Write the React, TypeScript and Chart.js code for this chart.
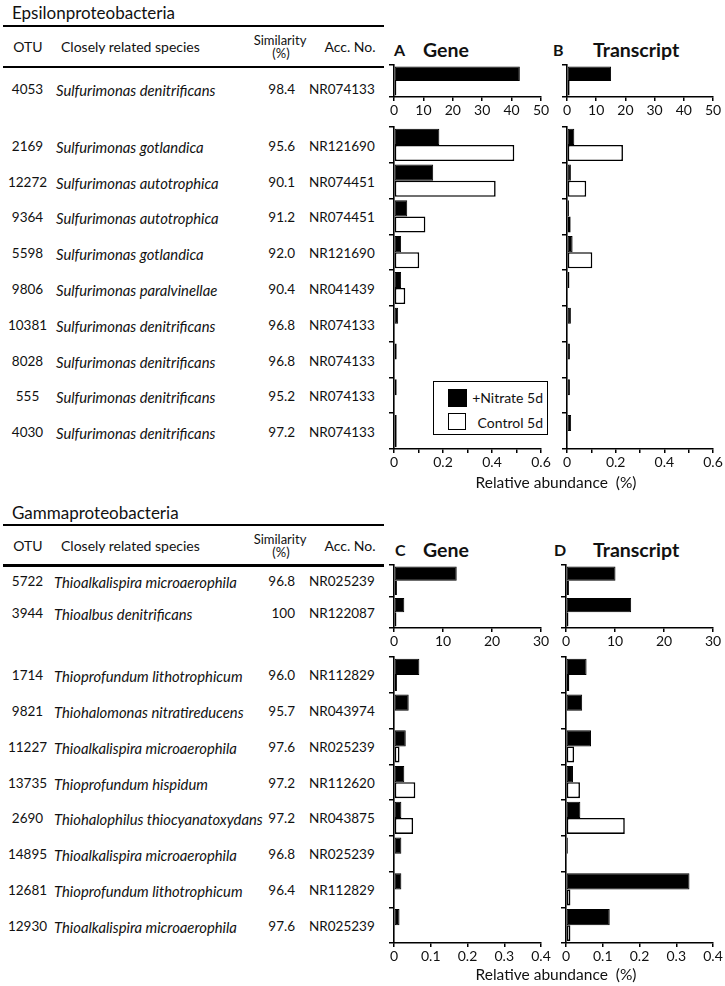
import React, { useEffect, useRef } from 'react';
import { Chart, registerables } from 'chart.js';
Chart.register(...registerables);

const FONT = 'Lato, "Noto Sans", sans-serif';

// ---- Epsilonproteobacteria ----
const epsTopOTU = ['4053'];
const epsTopSpecies = ['Sulfurimonas denitrificans'];
const epsTopSimilarity = ['98.4'];
const epsTopAcc = ['NR074133'];
const epsTopGeneNitrate = [42.8];
const epsTopGeneControl = [0.8];
const epsTopTransNitrate = [15.1];
const epsTopTransControl = [0.9];

const epsOTU = ['2169', '12272', '9364', '5598', '9806', '10381', '8028', '555', '4030'];
const epsSpecies = [
  'Sulfurimonas gotlandica', 'Sulfurimonas autotrophica', 'Sulfurimonas autotrophica',
  'Sulfurimonas gotlandica', 'Sulfurimonas paralvinellae', 'Sulfurimonas denitrificans',
  'Sulfurimonas denitrificans', 'Sulfurimonas denitrificans', 'Sulfurimonas denitrificans',
];
const epsSimilarity = ['95.6', '90.1', '91.2', '92.0', '90.4', '96.8', '96.8', '95.2', '97.2'];
const epsAcc = ['NR121690', 'NR074451', 'NR074451', 'NR121690', 'NR041439', 'NR074133', 'NR074133', 'NR074133', 'NR074133'];
const epsGeneNitrate = [0.185, 0.16, 0.054, 0.029, 0.029, 0.017, 0.011, 0.011, 0.011];
const epsGeneControl = [0.491, 0.415, 0.128, 0.103, 0.046, 0, 0, 0, 0.011];
const epsTransNitrate = [0.03, 0.016, 0.008, 0.023, 0.01, 0.016, 0.012, 0.012, 0.017];
const epsTransControl = [0.23, 0.079, 0.015, 0.104, 0, 0, 0, 0, 0];

// ---- Gammaproteobacteria ----
const gamTopOTU = ['5722', '3944'];
const gamTopSpecies = ['Thioalkalispira microaerophila', 'Thioalbus denitrificans'];
const gamTopSimilarity = ['96.8', '100'];
const gamTopAcc = ['NR025239', 'NR122087'];
const gamTopGeneNitrate = [12.8, 2.1];
const gamTopGeneControl = [0.6, 0.5];
const gamTopTransNitrate = [10.1, 13.3];
const gamTopTransControl = [0.6, 0.5];

const gamOTU = ['1714', '9821', '11227', '13735', '2690', '14895', '12681', '12930'];
const gamSpecies = [
  'Thioprofundum lithotrophicum', 'Thiohalomonas nitratireducens', 'Thioalkalispira microaerophila',
  'Thioprofundum hispidum', 'Thiohalophilus thiocyanatoxydans', 'Thioalkalispira microaerophila',
  'Thioprofundum lithotrophicum', 'Thioalkalispira microaerophila',
];
const gamSimilarity = ['96.0', '95.7', '97.6', '97.2', '97.2', '96.8', '96.4', '97.6'];
const gamAcc = ['NR112829', 'NR043974', 'NR025239', 'NR112620', 'NR043875', 'NR025239', 'NR112829', 'NR025239'];
const gamGeneNitrate = [0.069, 0.04, 0.032, 0.028, 0.02, 0.02, 0.02, 0.015];
const gamGeneControl = [0.008, 0, 0.015, 0.058, 0.052, 0, 0, 0];
const gamTransNitrate = [0.056, 0.044, 0.068, 0.019, 0.039, 0.005, 0.336, 0.119];
const gamTransControl = [0.009, 0, 0.022, 0.038, 0.16, 0, 0.012, 0.012];

const PAD_L = 30, PAD_T = 8, PAD_R = 24, PAD_B = 28;

function Panel(props: any) {
  const { x0, x1, y0, y1, labels, nitrate, control, max, step, labelEvery } = props;
  const ref = useRef<HTMLCanvasElement>(null);
  const w = x1 - x0 + PAD_L + PAD_R;
  const h = y1 - y0 + PAD_T + PAD_B;
  useEffect(() => {
    const chart = new Chart(ref.current as HTMLCanvasElement, {
      type: 'bar',
      data: {
        labels,
        datasets: [
          {
            label: '+Nitrate 5d', data: nitrate, backgroundColor: '#000', borderColor: '#000',
            borderWidth: 1, borderSkipped: false, barPercentage: 1, categoryPercentage: 0.9,
          },
          {
            label: 'Control 5d', data: control, backgroundColor: '#fff', borderColor: '#000',
            borderWidth: 1.6, borderSkipped: false, barPercentage: 1, categoryPercentage: 0.9,
          },
        ],
      } as any,
      options: {
        animation: false,
        responsive: false,
        indexAxis: 'y',
        layout: { padding: { top: PAD_T, right: PAD_R, left: 0, bottom: 0 } },
        plugins: { legend: { display: false }, tooltip: { enabled: false } },
        scales: {
          y: {
            offset: true,
            grid: { offset: true, drawOnChartArea: false, drawTicks: true, tickLength: 5, color: '#000', lineWidth: 1.5 },
            border: { display: true, color: '#000', width: 1.6 },
            ticks: { display: false },
            afterFit: (s: any) => { s.width = PAD_L; },
          },
          x: {
            min: 0,
            max,
            grid: { drawOnChartArea: false, drawTicks: true, tickLength: 4, color: '#000', lineWidth: 1.5 },
            border: { display: true, color: '#000', width: 1.6 },
            ticks: {
              stepSize: step,
              autoSkip: false,
              maxRotation: 0,
              padding: 1,
              color: '#111',
              font: { family: FONT, size: 14 },
              callback: (v: any) => {
                const n = Number(v);
                const k = Math.round(n / step);
                if (labelEvery && k % labelEvery !== 0) return '';
                if (n === 0) return '0';
                return step < 1 ? n.toFixed(1) : String(Math.round(n));
              },
            },
            afterFit: (s: any) => { s.height = PAD_B; },
          },
        },
      } as any,
    });
    return () => chart.destroy();
  }, []);
  return (
    <canvas
      ref={ref}
      width={w}
      height={h}
      style={{ position: 'absolute', left: x0 - PAD_L, top: y0 - PAD_T, width: w, height: h }}
    />
  );
}

function T(props: any) {
  const { x, y, a = 'l', s = 13, w = 400, i = false, children } = props;
  const style: any = {
    position: 'absolute', top: y, lineHeight: 1, fontSize: s, fontWeight: w,
    fontStyle: i ? 'italic' : 'normal', whiteSpace: 'nowrap', fontFamily: FONT, color: '#111',
  };
  if (a === 'l') { style.left = x; style.transform = 'translateY(-50%)'; }
  else if (a === 'r') { style.right = 725 - x; style.transform = 'translateY(-50%)'; }
  else { style.left = x; style.transform = 'translate(-50%,-50%)'; }
  return <div style={style}>{children}</div>;
}

function Line(props: any) {
  const { y, h } = props;
  return <div style={{ position: 'absolute', left: 3, top: y, width: 381, height: h, background: '#000' }} />;
}

function Rows(props: any) {
  const { otu, species, sim, acc, ys, spX } = props;
  return (
    <>
      {otu.map((o: string, k: number) => (
        <React.Fragment key={o + k}>
          <T x={27.5} y={ys[k]} a="c" s={13.5}>{o}</T>
          <T x={spX} y={ys[k]} s={14.8} i>{species[k]}</T>
          <T x={295} y={ys[k]} a="r" s={13.5}>{sim[k]}</T>
          <T x={309} y={ys[k]} s={13.5}>{acc[k]}</T>
        </React.Fragment>
      ))}
    </>
  );
}

function Header(props: any) {
  const { y } = props;
  return (
    <>
      <T x={28} y={y} a="c" s={14}>OTU</T>
      <T x={61} y={y} s={14}>Closely related species</T>
      <T x={280} y={y - 7} a="c" s={13}>Similarity</T>
      <T x={281} y={y + 5.5} a="c" s={13}>(%)</T>
      <T x={350} y={y} a="c" s={14}>Acc. No.</T>
    </>
  );
}

export default function App() {
  const rowY = (top: number, bottom: number, n: number, off: number) =>
    Array.from({ length: n }, (_, k) => top + ((k + 0.5) * (bottom - top)) / n + off);
  return (
    <div style={{ position: 'absolute', left: 0, top: 0, width: 725, height: 986, background: '#fff', overflow: 'hidden' }}>
      {/* Epsilon table */}
      <T x={12} y={12} s={17}>Epsilonproteobacteria</T>
      <Line y={24.5} h={2} />
      <Header y={47} />
      <Line y={65.5} h={2.5} />
      <Rows otu={epsTopOTU} species={epsTopSpecies} sim={epsTopSimilarity} acc={epsTopAcc} ys={[90]} spX={56} />
      <Rows otu={epsOTU} species={epsSpecies} sim={epsSimilarity} acc={epsAcc} ys={rowY(127, 449, 9, 2)} spX={56} />

      {/* Gamma table */}
      <T x={12} y={511.5} s={17}>Gammaproteobacteria</T>
      <Line y={524} h={2} />
      <Header y={546} />
      <Line y={564} h={2.5} />
      <Rows otu={gamTopOTU} species={gamTopSpecies} sim={gamTopSimilarity} acc={gamTopAcc} ys={rowY(565, 628, 2, 1.5)} spX={54} />
      <Rows otu={gamOTU} species={gamSpecies} sim={gamSimilarity} acc={gamAcc} ys={rowY(657, 943, 8, 1.5)} spX={54} />

      {/* Panel titles */}
      <T x={394} y={50} s={16} w={700}>A</T>
      <T x={423} y={50} s={19.5} w={700}>Gene</T>
      <T x={553} y={50} s={16} w={700}>B</T>
      <T x={593} y={50} s={19.5} w={700}>Transcript</T>
      <T x={395} y={550} s={16} w={700}>C</T>
      <T x={423} y={550} s={19.5} w={700}>Gene</T>
      <T x={554} y={550} s={16} w={700}>D</T>
      <T x={593} y={550} s={19.5} w={700}>Transcript</T>

      {/* Charts */}
      <Panel x0={394} x1={541} y0={65} y1={97} labels={epsTopOTU} nitrate={epsTopGeneNitrate} control={epsTopGeneControl} max={50} step={10} />
      <Panel x0={567} x1={713} y0={65} y1={97} labels={epsTopOTU} nitrate={epsTopTransNitrate} control={epsTopTransControl} max={50} step={10} />
      <Panel x0={394} x1={541} y0={127} y1={449} labels={epsOTU} nitrate={epsGeneNitrate} control={epsGeneControl} max={0.6} step={0.1} labelEvery={2} />
      <Panel x0={567} x1={713} y0={127} y1={449} labels={epsOTU} nitrate={epsTransNitrate} control={epsTransControl} max={0.6} step={0.1} labelEvery={2} />
      <Panel x0={394} x1={541} y0={565} y1={628} labels={gamTopOTU} nitrate={gamTopGeneNitrate} control={gamTopGeneControl} max={30} step={10} />
      <Panel x0={566} x1={713} y0={565} y1={628} labels={gamTopOTU} nitrate={gamTopTransNitrate} control={gamTopTransControl} max={30} step={10} />
      <Panel x0={394} x1={541} y0={657} y1={943} labels={gamOTU} nitrate={gamGeneNitrate} control={gamGeneControl} max={0.4} step={0.1} />
      <Panel x0={566} x1={713} y0={657} y1={943} labels={gamOTU} nitrate={gamTransNitrate} control={gamTransControl} max={0.4} step={0.1} />

      {/* Legend */}
      <div style={{ position: 'absolute', left: 433, top: 381, width: 113, height: 52, border: '1.5px solid #000', background: '#fff' }} />
      <div style={{ position: 'absolute', left: 448, top: 389, width: 19, height: 18, background: '#000' }} />
      <div style={{ position: 'absolute', left: 448, top: 413, width: 16, height: 15, border: '1.5px solid #000', background: '#fff' }} />
      <T x={543} y={398} a="r" s={14}>+Nitrate 5d</T>
      <T x={543} y={422.5} a="r" s={14}>Control 5d</T>

      {/* Axis titles */}
      <T x={556} y={483} a="c" s={15.5}>Relative abundance&nbsp; (%)</T>
      <T x={556} y={975} a="c" s={15.5}>Relative abundance&nbsp; (%)</T>
    </div>
  );
}
